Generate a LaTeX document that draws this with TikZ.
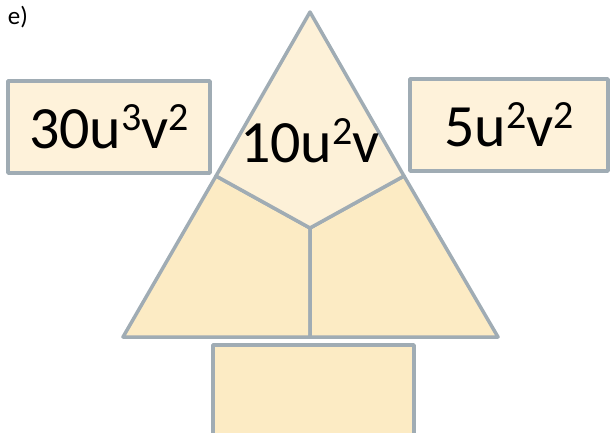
\documentclass[tikz,border=0pt]{standalone}
\usepackage{fontspec}
\setmainfont{Carlito}
\definecolor{edgecol}{RGB}{160,172,180}
\definecolor{topcol}{RGB}{253,241,216}
\definecolor{lowcol}{RGB}{252,235,196}
\definecolor{boxcol}{RGB}{254,242,218}
\newcommand\pw[1]{\raisebox{0.3em}{\fontsize{40}{40}\selectfont #1}}

\begin{document}
\begin{tikzpicture}[
  x=1pt, y=-1pt,
  every node/.style={font=\fontsize{60}{60}\selectfont},
  part/.style={draw=edgecol, line width=3.5pt, line join=round},
  termbox/.style={part, fill=boxcol, inner sep=0pt, minimum height=92pt}
]
\useasboundingbox (0,0) rectangle (610,432);
\clip (0,0) rectangle (610,432);

% ---------------- label ----------------
\node[font=\fontsize{25}{25}\selectfont] (lab) at (18,17) {e)};

% ---------------- triangle pieces ----------------
\coordinate (apex) at (310,12);
\coordinate (bl) at (123,337);
\coordinate (br) at (498,337);
\coordinate (ml) at (216,176);
\coordinate (mr) at (404,176);
\coordinate (mid) at (310,228);
\coordinate (bm) at (310,337);

\filldraw[part, fill=lowcol] (ml) -- (mid) -- (bm) -- (bl) -- cycle;
\filldraw[part, fill=lowcol] (mr) -- (mid) -- (bm) -- (br) -- cycle;
\filldraw[part, fill=topcol] (apex) -- (mr) -- (mid) -- (ml) -- cycle;

\node (top) at (310,141) {10u\pw{2}v};

% ---------------- boxes ----------------
\node[termbox, minimum width=202pt] (left) at (109,127) {30u\pw{3}v\pw{2}};
\node[termbox, minimum width=198pt] (right) at (509,125) {5u\pw{2}v\pw{2}};
\node[termbox, fill=lowcol, minimum width=201pt, minimum height=110pt] (bottom) at (313.5,400) {};

\end{tikzpicture}
\end{document}
